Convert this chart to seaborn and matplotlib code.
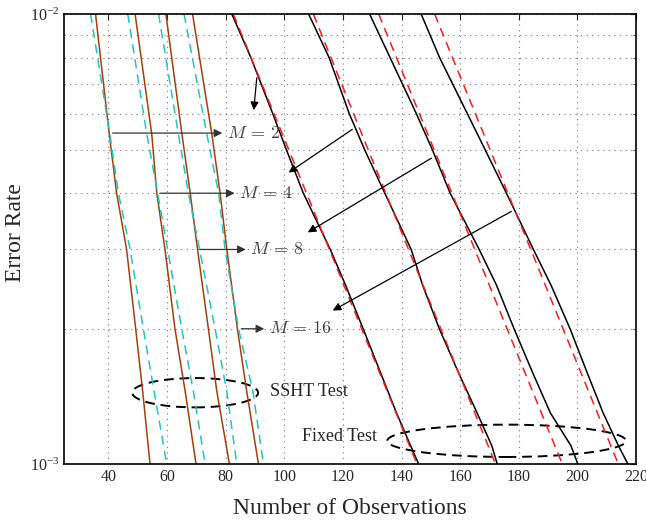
import numpy as np
import pandas as pd
import matplotlib.pyplot as plt
import seaborn as sns
from matplotlib.patches import Ellipse
from matplotlib.ticker import NullFormatter

sns.set_style("white")
plt.rcParams['font.family'] = ['Liberation Serif', 'DejaVu Serif']
plt.rcParams['mathtext.fontset'] = 'stix'

# SSHT test: error levels and number of observations (M = 2, 4, 8, 16)
ssht_err = [1e-2, 5.4e-3, 4e-3, 3e-3, 2e-3, 1.45e-3, 1e-3]
ssht_sim_m2 = [35.6, 40.3, 42.8, 46.2, 49.3, 51.7, 54.2]
ssht_sim_m4 = [49.1, 54.8, 56.5, 59.3, 62.7, 66.2, 69.9]
ssht_sim_m8 = [59.6, 65.1, 67.9, 70.4, 74.1, 77.0, 81.3]
ssht_sim_m16 = [68.7, 75.3, 78.1, 80.4, 84.0, 87.2, 91.2]
ssht_th_m2 = [33.9, 40.5, 43.4, 47.4, 51.9, 55.6, 59.9]
ssht_th_m4 = [46.6, 53.1, 56.8, 60.2, 65.0, 69.0, 73.0]
ssht_th_m8 = [57.1, 63.9, 67.3, 71.1, 76.4, 80.4, 83.8]
ssht_th_m16 = [65.8, 73.6, 77.6, 79.8, 84.4, 89.3, 92.9]

# Fixed test
fixed_err = [1e-2, 8e-3, 6e-3, 5e-3, 4e-3, 3e-3, 2.5e-3, 2e-3, 1.6e-3, 1.3e-3, 1.1e-3, 1e-3]
fixed_sim_m2 = [82.1, 88.6, 96.1, 100.7, 106.5, 115.7, 120.9, 126.9, 132.8, 138.3, 143.1, 145.9]
fixed_sim_m4 = [108.3, 115.3, 122.2, 127.4, 134.3, 143.3, 147.2, 152.9, 159.4, 165.8, 170.8, 172.7]
fixed_sim_m8 = [129.1, 136.1, 145.1, 150.5, 156.6, 166.5, 172.4, 178.4, 184.7, 190.8, 197.8, 200.2]
fixed_sim_m16 = [146.7, 153.0, 162.5, 168.5, 175.8, 185.0, 191.0, 197.5, 203.3, 208.8, 214.0, 217.3]
fixed_th_err = [1e-2, 5e-3, 3e-3, 2e-3, 1e-3]
fixed_th_m2 = [82.6, 101.5, 115.4, 126.4, 145.3]
fixed_th_m4 = [109.9, 128.6, 142.4, 153.4, 172.1]
fixed_th_m8 = [132.2, 151.1, 165.0, 176.0, 194.9]
fixed_th_m16 = [151.3, 170.2, 184.1, 195.1, 214.0]

rows = []
def add(kind, name, xs, ys):
    for x, y in zip(xs, ys):
        rows.append({"kind": kind, "curve": name, "obs": x, "err": y})

for m, s, t in zip([2, 4, 8, 16],
                   [ssht_sim_m2, ssht_sim_m4, ssht_sim_m8, ssht_sim_m16],
                   [ssht_th_m2, ssht_th_m4, ssht_th_m8, ssht_th_m16]):
    add("ssht_sim", f"ss{m}", s, ssht_err)
    add("ssht_th", f"st{m}", t, ssht_err)
for m, s, t in zip([2, 4, 8, 16],
                   [fixed_sim_m2, fixed_sim_m4, fixed_sim_m8, fixed_sim_m16],
                   [fixed_th_m2, fixed_th_m4, fixed_th_m8, fixed_th_m16]):
    add("fixed_sim", f"fs{m}", s, fixed_err)
    add("fixed_th", f"ft{m}", t, fixed_th_err)
df = pd.DataFrame(rows)

fig = plt.figure(figsize=(6.46, 5.21), dpi=100)
ax = fig.add_axes([0.0998, 0.1088, 0.8847, 0.8643])

palette = {"ssht_sim": "#a3400c", "ssht_th": "#22c4c4", "fixed_sim": "black", "fixed_th": "#ff1a1a"}
dashes = {"ssht_sim": "", "ssht_th": (6, 4), "fixed_sim": "", "fixed_th": (6, 4)}
sns.lineplot(data=df, x="obs", y="err", hue="kind", style="kind", units="curve",
             estimator=None, sort=False, palette=palette, dashes=dashes,
             linewidth=1.1, legend=False, ax=ax)

ax.set_yscale("log")
ax.set_xlim(25, 220)
ax.set_ylim(1e-3, 1e-2)
ax.set_xticks(range(40, 221, 20))
ax.yaxis.set_minor_formatter(NullFormatter())
ax.tick_params(which="both", direction="in", top=True, right=True, labelsize=11.5)
ax.tick_params(which="major", length=4)
ax.tick_params(which="minor", length=2.5)
ax.grid(True, which="major", axis="x", ls=(0, (1, 4)), color="0.45", lw=0.8)
ax.grid(True, which="both", axis="y", ls=(0, (1, 4)), color="0.45", lw=0.8)
for sp in ax.spines.values():
    sp.set_linewidth(1.2)
    sp.set_color("black")

ax.set_xlabel("Number of Observations", fontsize=17, labelpad=9)
ax.set_ylabel("Error Rate", fontsize=17)
ax.yaxis.set_label_coords(-0.068, 0.515)

arrow = dict(arrowstyle="-|>", color="0.2", lw=0.9, mutation_scale=12)
# horizontal arrows from SSHT curves to labels
labels = [(r"$M\,=\,2$", 40.5, 79.8, 5.44e-3), (r"$M\,=\,4$", 56.8, 84.0, 4.0e-3),
          (r"$M\,=\,8$", 70.2, 87.8, 3.0e-3), (r"$M\,=\,16$", 84.4, 94.1, 2.0e-3)]
for txt, x0, x1, y in labels:
    ax.annotate("", xy=(x1, y), xytext=(x0, y), arrowprops=arrow)
    ax.text(x1 + 0.6, y, txt, ha="left", va="center", fontsize=13,
            math_fontfamily="cm", color="0.25")
# arrows from fixed curves towards labels
fixed_arrows = [((90.7, 7.32e-3), (89.5, 6.03e-3)), ((124.0, 5.59e-3), (100.7, 4.41e-3)),
                ((151.0, 4.82e-3), (107.2, 3.25e-3)), ((178.3, 3.67e-3), (115.7, 2.18e-3))]
for start, end in fixed_arrows:
    ax.annotate("", xy=end, xytext=start, arrowprops=dict(arrowstyle="-|>", color="black",
                                                          lw=0.9, mutation_scale=12))

ax.add_patch(Ellipse((0.2287, 0.159), 0.2203, 0.0651, transform=ax.transAxes,
                     fill=False, ls=(0, (5, 3)), lw=1.4, ec="black"))
ax.add_patch(Ellipse((0.7736, 0.0522), 0.4177, 0.0718, transform=ax.transAxes,
                     fill=False, ls=(0, (5, 3)), lw=1.4, ec="black", clip_on=False))
ax.text(0.360, 0.162, "SSHT Test", transform=ax.transAxes, ha="left", va="center", fontsize=13)
ax.text(0.547, 0.0607, "Fixed Test", transform=ax.transAxes, ha="right", va="center", fontsize=13)

fig.savefig("out.png", dpi=100)
